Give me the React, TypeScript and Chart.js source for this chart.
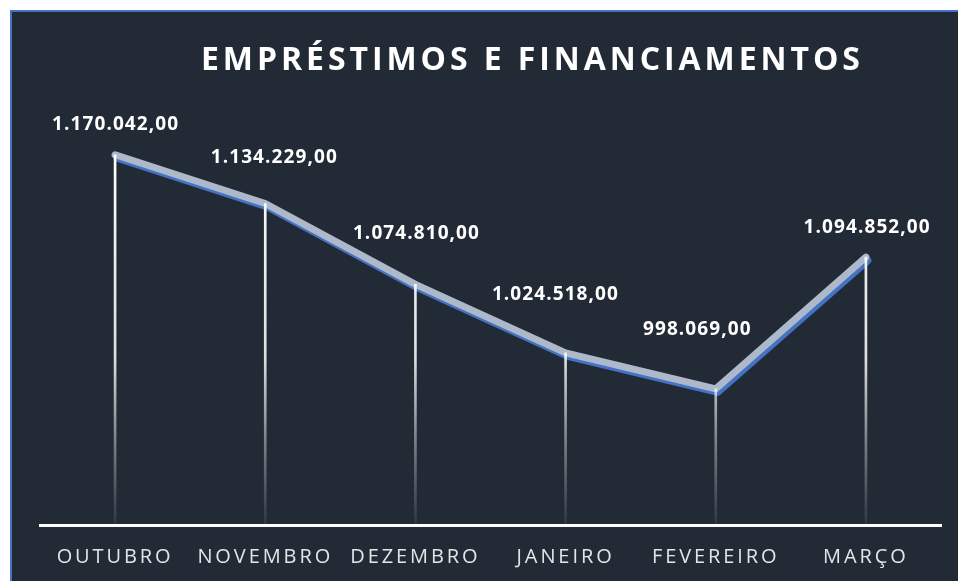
import React, { useEffect, useRef } from "react";
import { Chart, registerables } from "chart.js";

Chart.register(...registerables);

// ---- data ----
const CATEGORIES = ["OUTUBRO", "NOVEMBRO", "DEZEMBRO", "JANEIRO", "FEVEREIRO", "MARÇO"];
const VALUES = [1170042, 1134229, 1074810, 1024518, 998069, 1094852];
const TITLE = "EMPRÉSTIMOS E FINANCIAMENTOS";
const Y_MIN = 898000;
const Y_MAX = 1200000;

// ---- style (label nudges, px) ----
const LABEL_DX = [0, 8.5, 0.5, -10.7, -19, 0.7];
const LABEL_DY = [-25, -40.5, -45.5, -53, -54, -24.5];

function formatBR(v: number): string {
  const [i, d] = v.toFixed(2).split(".");
  return i.replace(/\B(?=(\d{3})+(?!\d))/g, ".") + "," + d;
}

const BG = "#222a35";
const FONT = '"Open Sans", "DejaVu Sans", sans-serif';
const TICK_SIZE = 20;

const decorPlugin = {
  id: "decor",
  beforeDraw(chart: any) {
    const ctx = chart.ctx as CanvasRenderingContext2D;
    const W = chart.width;
    const H = chart.height;
    ctx.save();
    ctx.fillStyle = "#ffffff";
    ctx.fillRect(0, 0, W, H);
    ctx.fillStyle = BG;
    ctx.fillRect(10, 10, W - 10, H - 10);
    ctx.strokeStyle = "#4472c4";
    ctx.lineWidth = 2;
    ctx.beginPath();
    ctx.moveTo(11, H);
    ctx.lineTo(11, 11);
    ctx.lineTo(W, 11);
    ctx.stroke();
    // letter spacing for the axis tick labels
    ctx.font = `${TICK_SIZE}px ${FONT}`;
    (ctx as any).letterSpacing = "0px";
    const w0 = ctx.measureText(CATEGORIES[0]).width;
    const sp = Math.max(0, (114 - w0) / (CATEGORIES[0].length - 1));
    ctx.restore();
    (ctx as any).letterSpacing = sp + "px";
  },
  beforeDatasetsDraw(chart: any) {
    (chart.ctx as any).letterSpacing = "0px";
  },
  beforeDatasetDraw(chart: any, args: any) {
    if (args.meta.type === "line") {
      const ctx = chart.ctx as CanvasRenderingContext2D;
      ctx.save();
      ctx.shadowColor = "#4472c4";
      ctx.shadowOffsetX = 2;
      ctx.shadowOffsetY = 3.5;
      ctx.shadowBlur = 0;
    }
  },
  afterDatasetDraw(chart: any, args: any) {
    if (args.meta.type === "line") {
      chart.ctx.restore();
    }
  },
  afterDraw(chart: any) {
    const ctx = chart.ctx as CanvasRenderingContext2D;
    ctx.save();
    // title
    ctx.fillStyle = "#ffffff";
    ctx.textAlign = "left";
    ctx.textBaseline = "alphabetic";
    ctx.font = `bold 32px ${FONT}`;
    (ctx as any).letterSpacing = "0px";
    const tw = ctx.measureText(TITLE).width;
    const tsp = (659 - tw) / (TITLE.length - 1);
    (ctx as any).letterSpacing = tsp + "px";
    ctx.fillText(TITLE, 201, 70);

    // data labels
    ctx.font = `bold 19px ${FONT}`;
    (ctx as any).letterSpacing = "0px";
    const ref = formatBR(VALUES[0]);
    const lsp = Math.max(0, (126 - ctx.measureText(ref).width) / (ref.length - 1));
    const meta = chart.getDatasetMeta(1);
    meta.data.forEach((pt: any, i: number) => {
      const txt = formatBR(VALUES[i]);
      (ctx as any).letterSpacing = "0px";
      const w = ctx.measureText(txt).width + lsp * (txt.length - 1);
      (ctx as any).letterSpacing = lsp + "px";
      ctx.fillText(txt, pt.x + LABEL_DX[i] - w / 2, pt.y + LABEL_DY[i]);
    });
    ctx.restore();
    (ctx as any).letterSpacing = "0px";
  },
};

export default function App() {
  const ref = useRef<HTMLCanvasElement | null>(null);

  useEffect(() => {
    const canvas = ref.current;
    if (!canvas) return;
    const chart = new Chart(canvas, {
      type: "bar",
      data: {
        labels: CATEGORIES,
        datasets: [
          {
            type: "bar",
            label: "drop",
            data: VALUES,
            order: 0,
            barThickness: 2,
            borderWidth: 0,
            backgroundColor: (c: any) => {
              const ch = c.chart;
              const ca = ch.chartArea;
              if (!ca) return "#ffffff";
              const g = ch.ctx.createLinearGradient(0, 150, 0, ca.bottom);
              g.addColorStop(0, "rgba(255,255,255,1)");
              g.addColorStop(0.55, "rgba(255,255,255,0.85)");
              g.addColorStop(0.78, "rgba(255,255,255,0.4)");
              g.addColorStop(1, "rgba(255,255,255,0.06)");
              return g;
            },
          } as any,
          {
            type: "line",
            label: "line",
            data: VALUES,
            order: 1,
            borderColor: "#adb9ca",
            borderWidth: 7,
            pointRadius: 0,
            pointHoverRadius: 0,
            tension: 0,
            borderCapStyle: "round",
            borderJoinStyle: "round",
            clip: false,
          } as any,
        ],
      },
      options: {
        responsive: false,
        animation: false,
        devicePixelRatio: 1,
        layout: { padding: { left: 40, right: 17, top: 114, bottom: 0 } },
        plugins: {
          legend: { display: false },
          title: { display: false },
          tooltip: { enabled: false },
        },
        scales: {
          x: {
            offset: true,
            grid: { display: false, drawTicks: false },
            border: { display: true, color: "#ffffff", width: 3 },
            ticks: {
              color: "#e4e4e4",
              font: { family: FONT, size: TICK_SIZE },
              padding: 20,
              maxRotation: 0,
              autoSkip: false,
            },
            afterFit: (s: any) => {
              s.height = 56;
            },
          },
          y: { display: false, min: Y_MIN, max: Y_MAX },
        },
      },
      plugins: [decorPlugin],
    } as any);
    return () => chart.destroy();
  }, []);

  return (
    <div style={{ position: "fixed", left: 0, top: 0, width: 958, height: 581, background: "#fff" }}>
      <canvas ref={ref} width={958} height={581} style={{ display: "block", width: 958, height: 581 }} />
    </div>
  );
}
